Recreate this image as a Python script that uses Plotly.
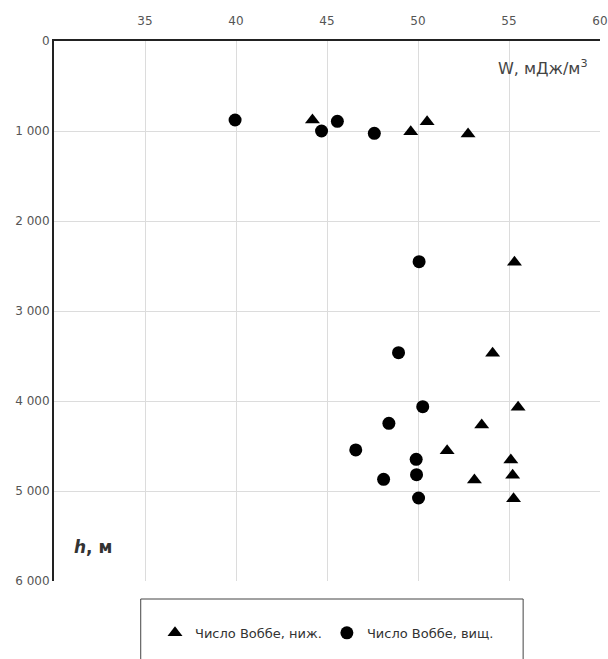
import plotly.graph_objects as go

# Число Воббе, ниж. (triangles)
w_low = [44.2, 49.6, 50.5, 52.75, 55.3, 54.1, 55.5, 53.5, 51.6, 55.1, 55.2, 53.1, 55.25]
h_low = [878, 1008, 897, 1033, 2459, 3470, 4070, 4267, 4552, 4656, 4826, 4878, 5086]

# Число Воббе, вищ. (circles)
w_high = [39.95, 44.7, 45.57, 47.6, 50.06, 48.93, 50.26, 48.4, 46.58, 49.9, 49.92, 48.11, 50.03]
h_high = [878, 1000, 892, 1026, 2452, 3463, 4063, 4248, 4544, 4648, 4819, 4870, 5078]

x_ticks = [35, 40, 45, 50, 55, 60]
y_ticks = [0, 1000, 2000, 3000, 4000, 5000, 6000]
y_ticktext = ["0", "1 000", "2 000", "3 000", "4 000", "5 000", "6 000"]

FONT = "DejaVu Sans, Verdana, sans-serif"

fig = go.Figure()
fig.add_trace(go.Scatter(
    x=w_low, y=h_low, mode="markers", name="Число Воббе, ниж.",
    marker=dict(symbol="triangle-up", size=13, color="black")))
fig.add_trace(go.Scatter(
    x=w_high, y=h_high, mode="markers", name="Число Воббе, вищ.",
    marker=dict(symbol="circle", size=13, color="black")))

fig.update_layout(
    width=608, height=659,
    margin=dict(l=54, r=0, t=41, b=78),
    paper_bgcolor="white", plot_bgcolor="white",
    font=dict(family=FONT, size=12, color="#555555"),
    showlegend=True,
    legend=dict(orientation="h", x=0.50, xanchor="center", y=-0.096, yanchor="middle",
                font=dict(family=FONT, size=13, color="#333333"),
                bgcolor="rgba(0,0,0,0)", itemwidth=30),
    xaxis=dict(side="top", range=[30, 60], tickvals=x_ticks,
               showgrid=True, gridcolor="#dcdcdc", gridwidth=1,
               showline=True, linecolor="#222222", linewidth=2,
               ticks="", zeroline=False, ticklabelstandoff=9,
               ticklabeloverflow="allow",
               tickfont=dict(family=FONT, size=12, color="#555555")),
    yaxis=dict(range=[6000, 0], tickvals=y_ticks, ticktext=y_ticktext,
               showgrid=True, gridcolor="#dcdcdc", gridwidth=1,
               showline=True, linecolor="#222222", linewidth=2,
               ticks="", zeroline=False, ticklabelstandoff=0,
               tickfont=dict(family=FONT, size=12, color="#555555")),
    shapes=[dict(type="rect", xref="paper", yref="paper",
                 x0=(142 - 54) / 554, x1=(530 - 54) / 554,
                 y0=(581 - 700) / 540, y1=(581 - 599) / 540,
                 line=dict(color="#444444", width=1), fillcolor="rgba(0,0,0,0)",
                 layer="above")],
    annotations=[
        dict(text="W, мДж/м<sup>3</sup>", xref="paper", yref="paper",
             x=(598 - 54) / 554, y=(581 - 67) / 540, xanchor="right", yanchor="middle",
             showarrow=False, font=dict(family=FONT, size=16, color="#444444")),
        dict(text="<b><i>h</i>, м</b>", xref="paper", yref="paper",
             x=(72 - 54) / 554, y=(581 - 547) / 540, xanchor="left", yanchor="middle",
             showarrow=False, font=dict(family=FONT, size=17, color="#333333")),
    ],
)

fig.write_html("out.html", config={"displayModeBar": False},
               post_script="document.body.style.margin='0';document.body.style.overflow='hidden';")
